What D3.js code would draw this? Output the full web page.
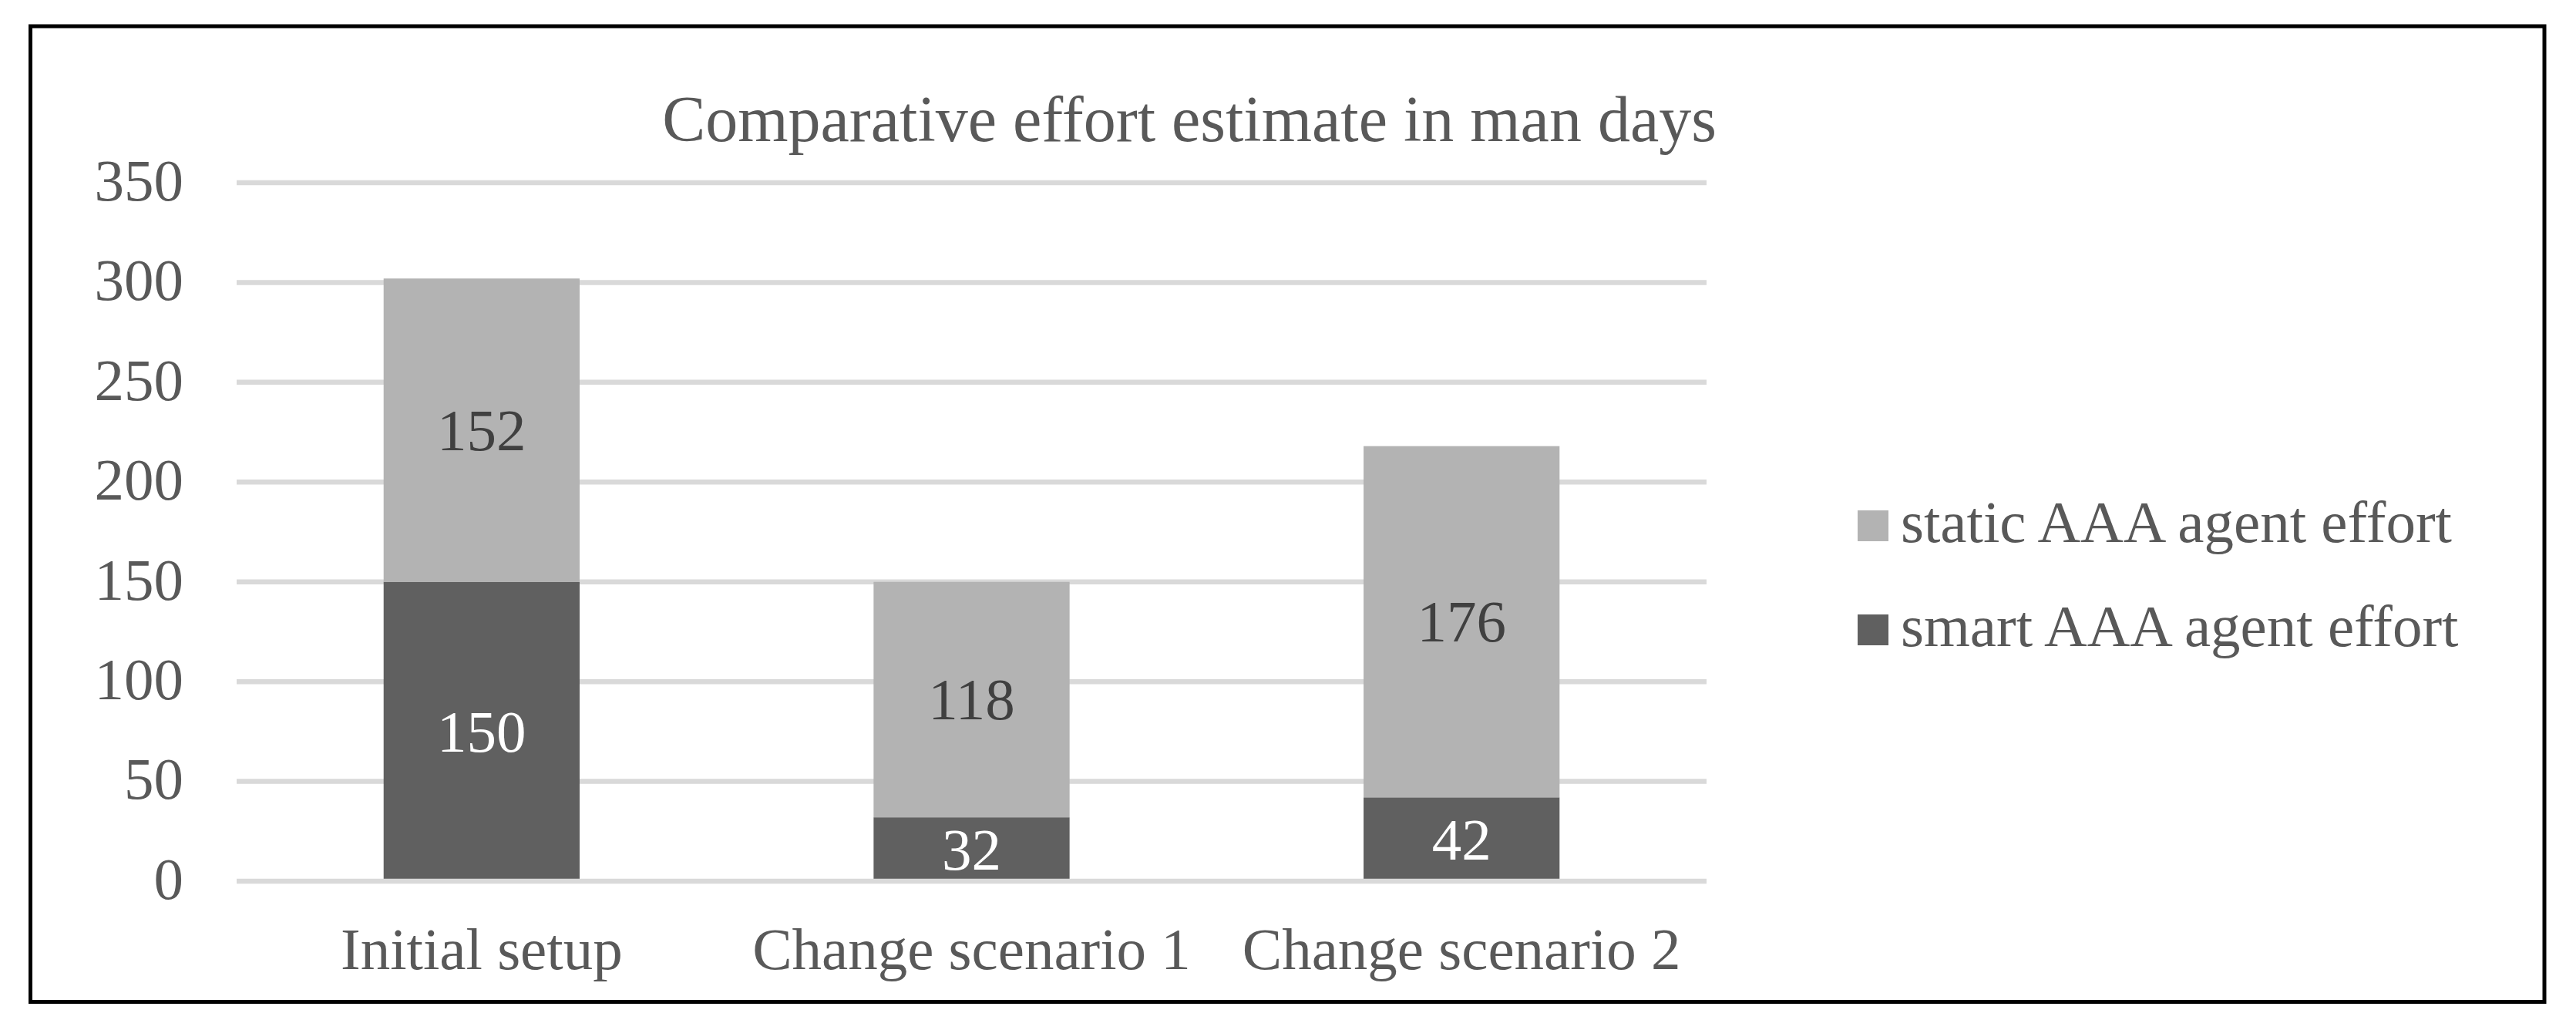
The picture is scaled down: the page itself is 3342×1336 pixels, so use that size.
<!DOCTYPE html>
<html>
<head>
<meta charset="utf-8">
<script src="https://cdn.jsdelivr.net/npm/d3@7"></script>
<style>
  body { margin: 0; background: #fff; }
  text { font-family: "Liberation Serif", "Times New Roman", serif; }
</style>
</head>
<body>
<svg id="chart" width="3342" height="1336"></svg>
<script>
const categories = ['Initial setup', 'Change scenario 1', 'Change scenario 2']
const smartEffort = [150, 32, 42]
const staticEffort = [152, 118, 176]
const seriesNames = ['smart AAA agent effort', 'static AAA agent effort']
const yTicks = [0, 50, 100, 150, 200, 250, 300, 350]
const title = 'Comparative effort estimate in man days'

const colors = { smart: '#606060', static: '#b3b3b3' }
const axisColor = '#595959'
const fontSize = 77

const svg = d3.select('#chart')
svg.append('rect').attr('width', 3342).attr('height', 1336).attr('fill', '#fff')

// frame round the whole chart
svg.append('rect')
  .attr('x', 39.5).attr('y', 34)
  .attr('width', 3261.5).attr('height', 1265.5)
  .attr('fill', 'none').attr('stroke', '#000').attr('stroke-width', 5)

const plot = { left: 307, right: 2214, top: 237, bottom: 1143 }

const x = d3.scaleBand()
  .domain(categories)
  .range([plot.left, plot.right])
  .paddingInner(0.6)
  .paddingOuter(0.3)

const y = d3.scaleLinear()
  .domain([0, 350])
  .range([plot.bottom, plot.top])

// gridlines
svg.append('g').selectAll('line').data(yTicks.filter(t => t > 0)).enter()
  .append('line')
    .attr('x1', plot.left).attr('x2', plot.right)
    .attr('y1', d => y(d)).attr('y2', d => y(d))
    .attr('stroke', '#d9d9d9').attr('stroke-width', 6.5)

// stacked bars
const rows = categories.map((c, i) => ({ cat: c, smart: smartEffort[i], static: staticEffort[i] }))
const stack = d3.stack().keys(['smart', 'static'])(rows)

const layers = svg.append('g').selectAll('g').data(stack).enter()
  .append('g')
    .attr('fill', d => colors[d.key])

layers.selectAll('rect').data(d => d).enter()
  .append('rect')
    .attr('x', d => x(d.data.cat))
    .attr('width', x.bandwidth())
    .attr('y', d => y(d[1]))
    .attr('height', d => y(d[0]) - y(d[1]))

// value labels
svg.append('g').selectAll('g').data(stack).enter()
  .append('g')
    .attr('fill', d => d.key === 'smart' ? '#ffffff' : '#404040')
  .selectAll('text').data(d => d).enter()
  .append('text')
    .attr('x', d => x(d.data.cat) + x.bandwidth() / 2)
    .attr('y', d => (y(d[0]) + y(d[1])) / 2 + 26)
    .attr('text-anchor', 'middle')
    .attr('font-size', fontSize)
    .text(d => d[1] - d[0])

// zero line on top of bars
svg.append('line')
  .attr('x1', plot.left).attr('x2', plot.right)
  .attr('y1', y(0)).attr('y2', y(0))
  .attr('stroke', '#d9d9d9').attr('stroke-width', 6.5)

// y axis labels
const yAxis = svg.append('g')
  .attr('transform', `translate(${plot.left},0)`)
  .call(d3.axisLeft(y).tickValues(yTicks).tickSize(0).tickPadding(69))
yAxis.select('.domain').remove()
yAxis.selectAll('text')
  .attr('dy', '0.29em')
  .attr('font-size', fontSize)
  .attr('font-family', '"Liberation Serif", serif')
  .attr('fill', axisColor)

// category labels
const xAxis = svg.append('g')
  .attr('transform', `translate(0,${plot.bottom})`)
  .call(d3.axisBottom(x).tickSize(0).tickPadding(59))
xAxis.select('.domain').remove()
xAxis.selectAll('text')
  .attr('font-size', fontSize)
  .attr('font-family', '"Liberation Serif", serif')
  .attr('fill', axisColor)

// title
svg.append('text')
  .attr('x', 1543).attr('y', 183)
  .attr('text-anchor', 'middle')
  .attr('font-size', 84)
  .attr('fill', axisColor)
  .text(title)

// legend: static on top, smart below
const legendItems = [
  { name: seriesNames[1], color: colors.static },
  { name: seriesNames[0], color: colors.smart }
]
const legend = svg.append('g').selectAll('g').data(legendItems).enter()
  .append('g')
    .attr('transform', (d, i) => `translate(2410,${662 + i * 135})`)
legend.append('rect')
  .attr('width', 40).attr('height', 40)
  .attr('fill', d => d.color)
legend.append('text')
  .attr('x', 56).attr('y', 41)
  .attr('font-size', fontSize)
  .attr('fill', axisColor)
  .text(d => d.name)
</script>
</body>
</html>
